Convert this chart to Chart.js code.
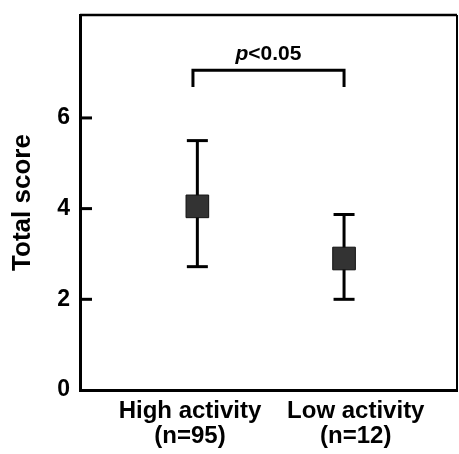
<!DOCTYPE html>
<html>
<head>
<meta charset="utf-8">
<script src="https://cdn.jsdelivr.net/npm/chart.js@4"></script>
<style>
html, body { margin: 0; padding: 0; background: #fff; overflow: hidden; }
#scoreChart { display: block; }
</style>
</head>
<body>
<canvas id="scoreChart" width="459" height="454"></canvas>
<script>
const groups = ["High activity", "Low activity"];
const sampleSizes = ["(n=95)", "(n=12)"];
const groupX = [0, 1];
const means = [4.05, 2.9];
const lowerBars = [2.72, 2.0];
const upperBars = [5.5, 3.87];
const yTicks = [0, 2, 4, 6];
const pLabel = "<0.05";
const bracketX = [-0.03, 1];
const bracketY = 7.05;
const bracketLegY = 6.68;

const FONT = "'Liberation Sans', Arial, Helvetica, sans-serif";

// square markers, whisker caps, whisker stems, significance bracket
const meanPoints = groupX.map((x, i) => ({ x: x, y: means[i] }));
const capPoints = groupX.flatMap((x, i) => [
    { x: x, y: lowerBars[i] },
    { x: x, y: upperBars[i] },
]);
const stemSets = groupX.map((x, i) => ({
    type: "line",
    data: [{ x: x, y: lowerBars[i] }, { x: x, y: upperBars[i] }],
    borderColor: "#000",
    borderWidth: 3,
    borderCapStyle: "butt",
    pointRadius: 0,
    fill: false,
}));
const bracketPoints = [
    { x: bracketX[0], y: bracketLegY },
    { x: bracketX[0], y: bracketY },
    { x: bracketX[1], y: bracketY },
    { x: bracketX[1], y: bracketLegY },
];

function noScalePadding(scale) {
    scale.paddingLeft = 0;
    scale.paddingRight = 0;
    scale.paddingTop = 0;
    scale.paddingBottom = 0;
}

const framePlugin = {
    id: "frame",
    beforeDatasetsDraw(chart) {
        const { ctx, chartArea, scales } = chart;
        ctx.save();
        ctx.strokeStyle = "#000";
        ctx.lineCap = "butt";
        // top and right edges of the box
        ctx.lineWidth = 2.5;
        ctx.beginPath();
        ctx.moveTo(chartArea.left, chartArea.top);
        ctx.lineTo(chartArea.right, chartArea.top);
        ctx.stroke();
        ctx.lineWidth = 2;
        ctx.beginPath();
        ctx.moveTo(chartArea.right, chartArea.top);
        ctx.lineTo(chartArea.right, chartArea.bottom);
        ctx.stroke();
        // inward tick marks on the y axis
        ctx.lineWidth = 3;
        yTicks.forEach((v) => {
            if (v === 0) return;
            const y = scales.y.getPixelForValue(v);
            ctx.beginPath();
            ctx.moveTo(chartArea.left, y);
            ctx.lineTo(chartArea.left + 12, y);
            ctx.stroke();
        });
        ctx.restore();
    },
    afterDatasetsDraw(chart) {
        const { ctx, scales } = chart;
        const cx = scales.x.getPixelForValue((bracketX[0] + bracketX[1]) / 2);
        const base = scales.y.getPixelForValue(bracketY) - 10;
        ctx.save();
        ctx.fillStyle = "#000";
        ctx.textBaseline = "alphabetic";
        ctx.textAlign = "left";
        const italic = "italic bold 21px " + FONT;
        const upright = "bold 21px " + FONT;
        ctx.font = italic;
        const wp = ctx.measureText("p").width;
        ctx.font = upright;
        const wr = ctx.measureText(pLabel).width;
        const x0 = cx - (wp + wr) / 2;
        ctx.font = italic;
        ctx.fillText("p", x0, base);
        ctx.font = upright;
        ctx.fillText(pLabel, x0 + wp, base);
        ctx.restore();
    },
};

const ctx = document.getElementById("scoreChart").getContext("2d");
new Chart(ctx, {
    type: "scatter",
    data: {
        datasets: [
            {
                label: "Mean",
                data: meanPoints,
                pointStyle: "rect",
                pointRadius: 16,
                pointHoverRadius: 16,
                backgroundColor: "#333333",
                borderColor: "#111111",
                borderWidth: 1,
            },
            {
                label: "Caps",
                data: capPoints,
                pointStyle: "line",
                pointRadius: 10.5,
                pointHoverRadius: 10.5,
                borderColor: "#000",
                borderWidth: 3,
            },
            ...stemSets,
            {
                type: "line",
                label: "Bracket",
                data: bracketPoints,
                borderColor: "#000",
                borderWidth: 3,
                borderJoinStyle: "miter",
                borderCapStyle: "butt",
                pointRadius: 0,
                fill: false,
                tension: 0,
            },
        ],
    },
    options: {
        responsive: false,
        animation: false,
        devicePixelRatio: 1,
        layout: {
            autoPadding: false,
            padding: { top: 15, right: 2, left: 0, bottom: 0 },
        },
        plugins: {
            legend: { display: false },
            tooltip: { enabled: false },
        },
        scales: {
            x: {
                type: "linear",
                min: -0.8,
                max: 1.77,
                afterBuildTicks: (scale) => {
                    const shift = [-0.05, 0.08];
                    scale.ticks = groupX.map((v, i) => ({ value: v + shift[i] }));
                },
                afterFit: (scale) => {
                    scale.height = 64;
                    noScalePadding(scale);
                },
                grid: { display: false, drawTicks: false },
                border: { display: true, width: 3, color: "#000" },
                ticks: {
                    autoSkip: false,
                    maxRotation: 0,
                    minRotation: 0,
                    padding: 9,
                    color: "#000",
                    font: { family: FONT, size: 24, weight: "bold", lineHeight: 1.05 },
                    callback: (value, index) => [groups[index], sampleSizes[index]],
                },
            },
            y: {
                min: 0,
                max: 8.27,
                afterBuildTicks: (scale) => {
                    scale.ticks = yTicks.map((v) => ({ value: v }));
                },
                afterFit: (scale) => {
                    scale.width = 80;
                    noScalePadding(scale);
                },
                grid: { display: false, drawTicks: false },
                border: { display: true, width: 3, color: "#000" },
                ticks: {
                    padding: 10,
                    color: "#000",
                    font: { family: FONT, size: 23, weight: "bold" },
                },
                title: {
                    display: true,
                    text: "Total score",
                    color: "#000",
                    padding: { top: 7, bottom: 0 },
                    font: { family: FONT, size: 26, weight: "bold" },
                },
            },
        },
    },
    plugins: [framePlugin],
});
</script>
</body>
</html>
